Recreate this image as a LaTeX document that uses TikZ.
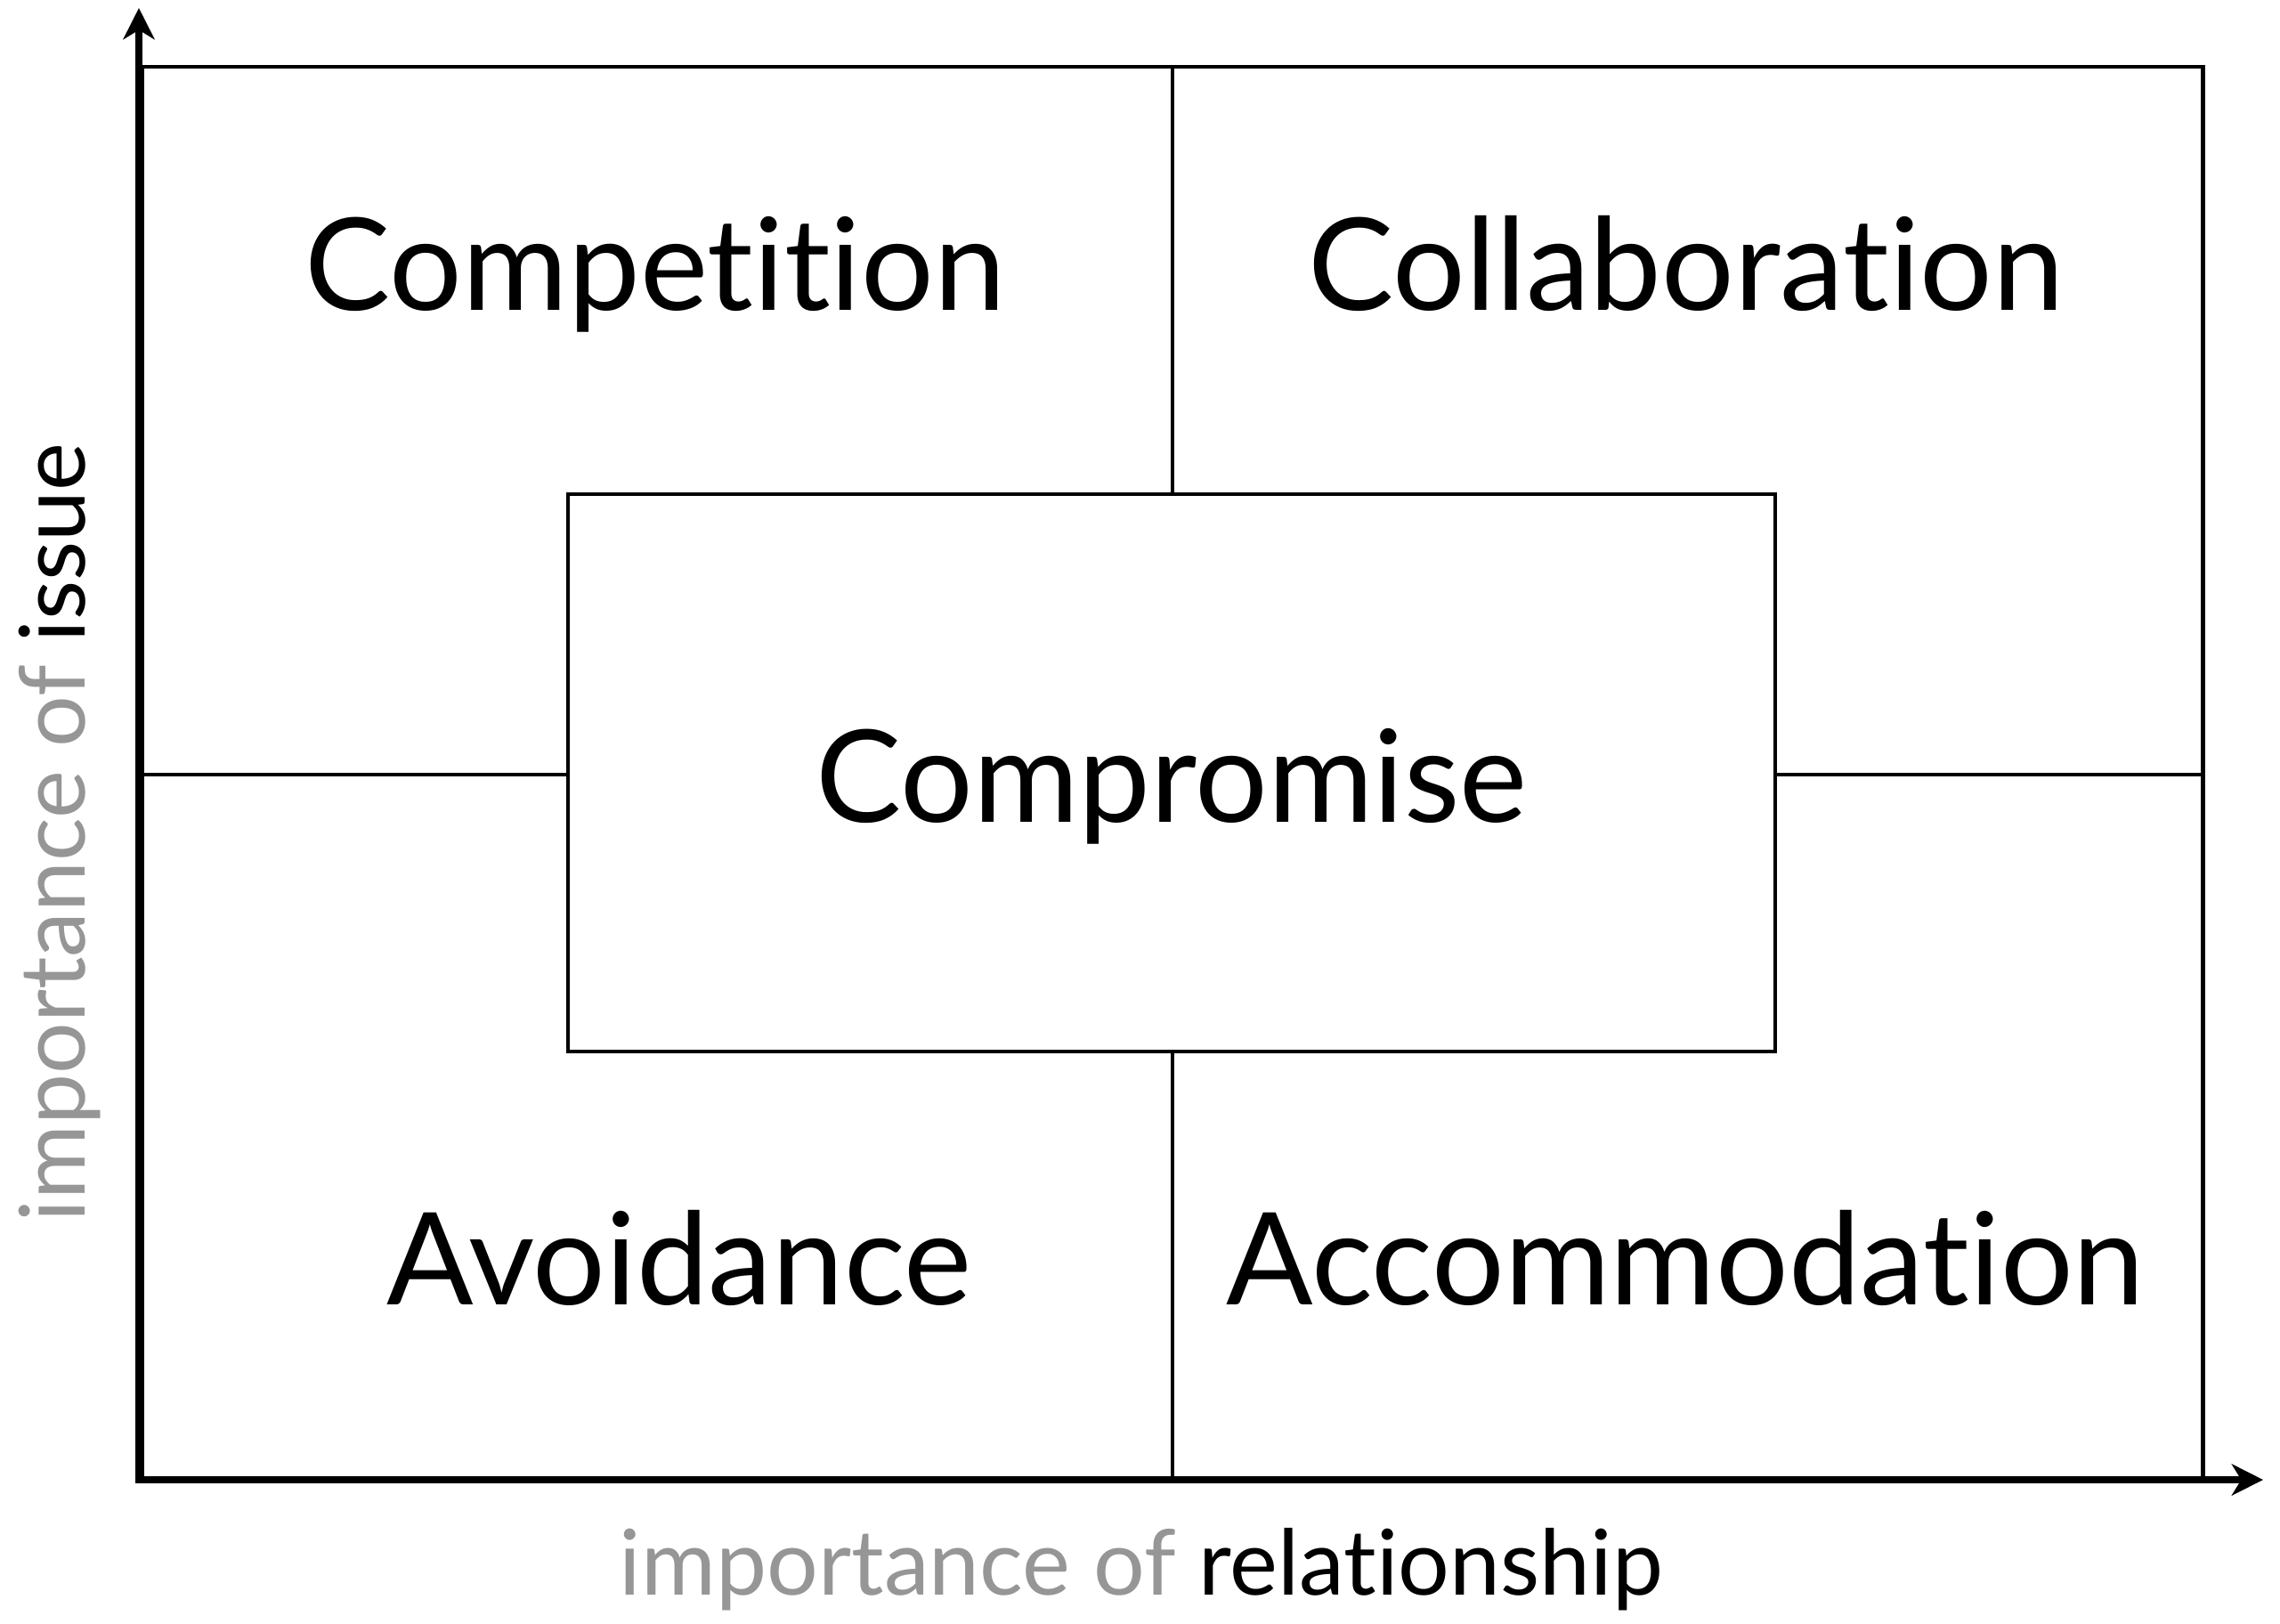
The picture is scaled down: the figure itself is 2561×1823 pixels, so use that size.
\documentclass[tikz,border=0pt]{standalone}
\usepackage{fontspec}
\setmainfont[Ligatures={NoCommon,NoRare,NoContextual}]{Lato}
\usetikzlibrary{arrows.meta}
\definecolor{labelgray}{RGB}{150,150,150}
\begin{document}
\begin{tikzpicture}[x=0.01cm,y=-0.01cm,
  thinline/.style={line width=1.4pt,black},
  axisline/.style={line width=2.4pt,black},
  quadtext/.style={anchor=base,inner sep=0pt,font=\fontsize{41}{48}\selectfont},
  axistext/.style={anchor=base,inner sep=0pt,font=\fontsize{29}{34}\selectfont},
  centerbox/.style={draw,thinline,fill=white,minimum width=1356*0.01cm,minimum height=626*0.01cm,inner sep=0pt}
]
\useasboundingbox (0,0) rectangle (2561,1823);
% outer frame corners
\coordinate (tl) at (160,75);
\coordinate (br) at (2474,1662);
\coordinate (ytip) at (156,9);
\coordinate (xtip) at (2542,1662);
\coordinate (topmid) at (1317,75);
\coordinate (botmid) at (1317,1662);
\coordinate (leftmid) at (160,870);
\coordinate (rightmid) at (2474,870);
\draw[thinline] (tl) rectangle (br);
% center box
\node[centerbox] (comp) at (1316,868) {};
% dividers
\draw[thinline] (topmid) -- (comp.north -| topmid);
\draw[thinline] (botmid) -- (comp.south -| botmid);
\draw[thinline] (leftmid) -- (comp.west |- leftmid);
\draw[thinline] (rightmid) -- (comp.east |- rightmid);
% axes
\draw[axisline,{Stealth[length=10pt,width=10pt,inset=3pt]}-{Stealth[length=10pt,width=10pt,inset=3pt]}] (ytip) |- (xtip);
% quadrant labels
\node[quadtext] (competition) at (736,348) {Competition};
\node[quadtext] (collaboration) at (1894,348) {Collaboration};
\node[quadtext] (compromise) at (1316,923) {Compromise};
\node[quadtext] (avoidance) at (763,1465) {Avoidance};
\node[quadtext] (accommodation) at (1893,1465) {Accommodation};
% axis labels
\node[axistext] (xlabel) at (1282,1791) {\textcolor{labelgray}{importance of} relationship};
\node[axistext,rotate=90] (ylabel) at (95,935) {\textcolor{labelgray}{importance of} issue};
\end{tikzpicture}
\end{document}
